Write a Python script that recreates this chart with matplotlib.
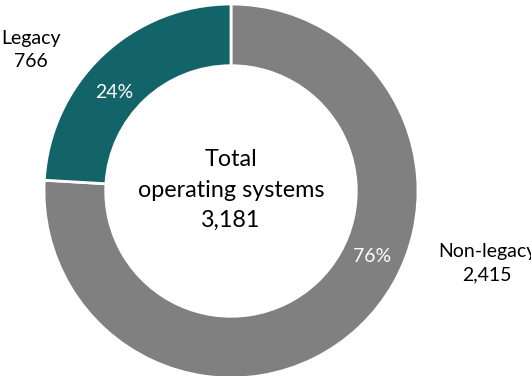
import matplotlib
matplotlib.use("Agg")
import matplotlib.pyplot as plt

categories = ["Non-legacy", "Legacy"]
values = [2415, 766]
colors = ["#808080", "#136468"]
total_label = "Total\noperating systems\n3,181"

fig = plt.figure(figsize=(5.31, 3.76), dpi=100)
ax = fig.add_axes([0, 0, 1, 1])
R = 187.0
cx, cy = 231.0, 191.0
W, H = 531.0, 376.0

total = sum(values)
wedges, _ = ax.pie(values, colors=colors, startangle=90, counterclock=False,
                   radius=1.0, wedgeprops=dict(width=0.33, edgecolor="white", linewidth=2))
ax.set_xlim(-cx / R, (W - cx) / R)
ax.set_ylim(-(H - cy) / R, cy / R)
ax.set_aspect("equal")
ax.axis("off")

def px(x, y):
    return ((x - cx) / R, (cy - y) / R)

font = "Lato"
# percentage labels
pcts = [f"{round(v / total * 100)}%" for v in values]
ax.text(*px(372, 256), pcts[0], color="white", fontsize=14, ha="center", va="center", family=font)
ax.text(*px(114, 92), pcts[1], color="white", fontsize=14, ha="center", va="center", family=font)

# category labels
ax.text(*px(487, 263), f"{categories[0]}\n{values[0]:,}", color="black", fontsize=14,
        ha="center", va="center", family=font, linespacing=1.45)
ax.text(*px(31, 50), f"{categories[1]}\n{values[1]:,}", color="black", fontsize=14,
        ha="center", va="center", family=font, linespacing=1.45)

ax.text(*px(231, 190), total_label, color="black", fontsize=16.8, ha="center", va="center",
        family=font, linespacing=1.55)

fig.savefig("out.png", dpi=100)
